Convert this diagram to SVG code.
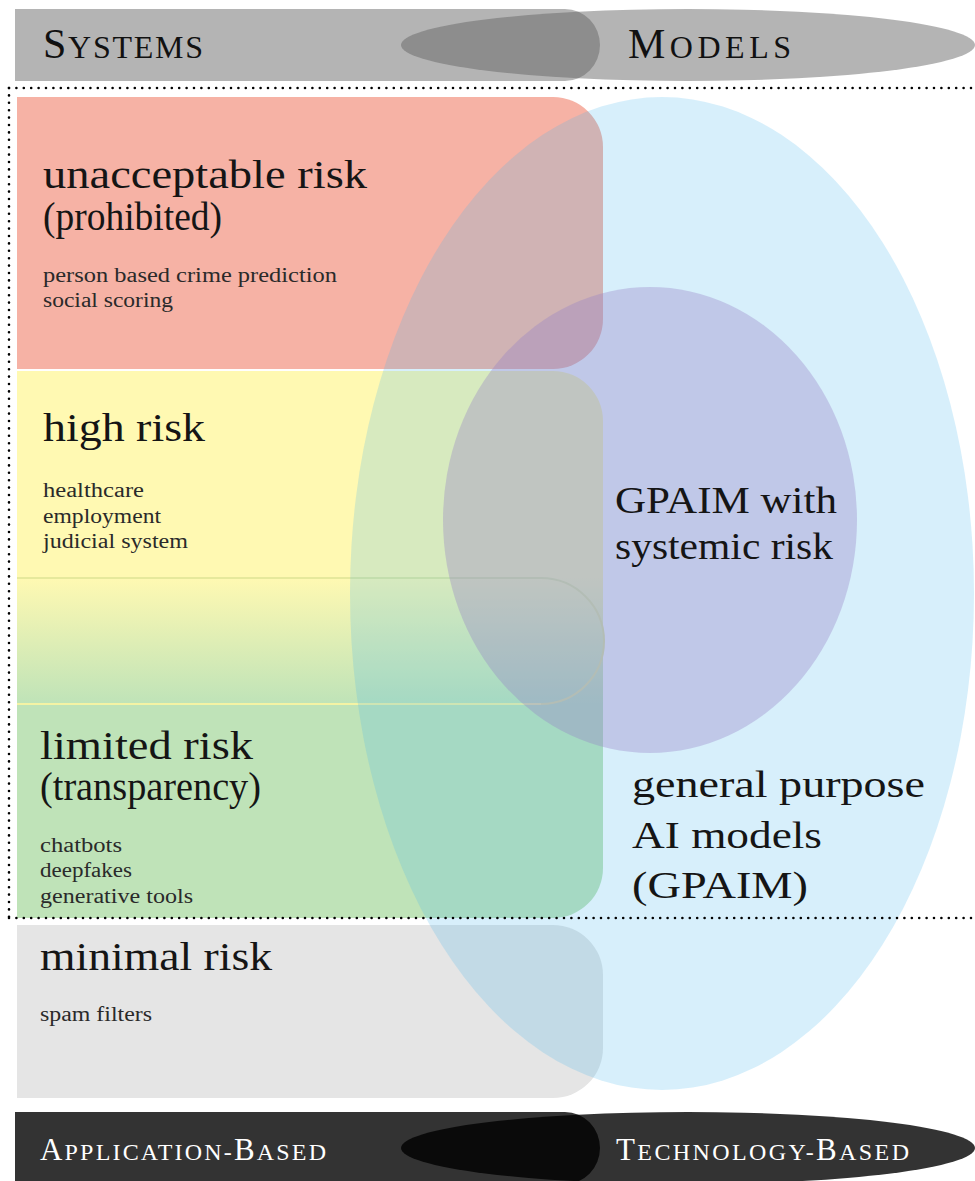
<svg xmlns="http://www.w3.org/2000/svg" width="975" height="1181" viewBox="0 0 975 1181">
<defs>
<style>
text{font-family:"Liberation Serif",Tinos,"Times New Roman",Times,"DejaVu Serif",serif;}
.h{font-size:40px;fill:#151515;}
.i{font-size:20px;fill:#2a2a2a;}
.m{font-size:38px;fill:#151515;}
.dot{stroke:#000;stroke-width:2.6;stroke-linecap:round;stroke-dasharray:0 7.4;fill:none;}
</style>
<linearGradient id="yg" x1="0" y1="371" x2="0" y2="918" gradientUnits="userSpaceOnUse">
<stop offset="0" stop-color="#fff9b2"/>
<stop offset="0.378" stop-color="#fff9b2"/>
<stop offset="0.608" stop-color="#bfe3b8"/>
<stop offset="1" stop-color="#bfe3b8"/>
</linearGradient>
</defs>
<rect width="975" height="1181" fill="#fff"/>

<g id="header">
<path d="M15 9 H565 A35 36 0 0 1 600 45 A35 36 0 0 1 565 81 H15 Z" fill="#626262" fill-opacity="0.48"/>
<ellipse cx="688" cy="45" rx="287" ry="36" fill="#626262" fill-opacity="0.48"/>
<text x="43" y="58" textLength="160" lengthAdjust="spacing" fill="#111"><tspan font-size="42">S</tspan><tspan font-size="32">YSTEMS</tspan></text>
<text x="628" y="58" textLength="163" lengthAdjust="spacing" fill="#111"><tspan font-size="42">M</tspan><tspan font-size="32">ODELS</tspan></text>
</g>

<g id="unacceptable">
<path d="M17 97 H553 A50 50 0 0 1 603 147 V319 A50 50 0 0 1 553 369 H17 Z" fill="#f6b2a5"/>
</g>

<g id="high-limited">
<path d="M17 371 H553 A50 50 0 0 1 603 421 V868 A50 50 0 0 1 553 918 H17 Z" fill="url(#yg)"/>
<path d="M17 578 H541 A63 63 0 0 1 541 704 H17" fill="none" stroke="#e6e99c" stroke-width="2"/>
<line x1="17" y1="704" x2="541" y2="704" stroke="#f4f3a4" stroke-width="2"/>
</g>

<g id="minimal">
<path d="M17 925 H553 A50 50 0 0 1 603 975 V1048 A50 50 0 0 1 553 1098 H17 Z" fill="#e5e5e5"/>
</g>

<g id="gpaim">
<ellipse cx="662" cy="593.5" rx="312" ry="496.5" fill="#49b6ec" fill-opacity="0.22"/>
</g>

<g id="gpaim-systemic">
<ellipse cx="650" cy="520" rx="207" ry="233" fill="#9580c5" fill-opacity="0.35"/>
</g>

<g id="unacceptable-text">
<text class="h" x="43" y="188" textLength="324" lengthAdjust="spacingAndGlyphs">unacceptable risk</text>
<text class="h" x="43" y="230" textLength="179" lengthAdjust="spacingAndGlyphs">(prohibited)</text>
<text class="i" x="43" y="282" textLength="294" lengthAdjust="spacingAndGlyphs">person based crime prediction</text>
<text class="i" x="43" y="307" textLength="130" lengthAdjust="spacingAndGlyphs">social scoring</text>
</g>

<g id="high-risk-text">
<text class="h" x="43" y="441" textLength="162" lengthAdjust="spacingAndGlyphs">high risk</text>
<text class="i" x="43" y="497" textLength="101" lengthAdjust="spacingAndGlyphs">healthcare</text>
<text class="i" x="43" y="523" textLength="118" lengthAdjust="spacingAndGlyphs">employment</text>
<text class="i" x="43" y="548" textLength="145" lengthAdjust="spacingAndGlyphs">judicial system</text>
</g>

<g id="limited-risk-text">
<text class="h" x="40" y="759" textLength="213" lengthAdjust="spacingAndGlyphs">limited risk</text>
<text class="h" x="40" y="800" textLength="221" lengthAdjust="spacingAndGlyphs">(transparency)</text>
<text class="i" x="40" y="852" textLength="82" lengthAdjust="spacingAndGlyphs">chatbots</text>
<text class="i" x="40" y="877" textLength="92" lengthAdjust="spacingAndGlyphs">deepfakes</text>
<text class="i" x="40" y="903" textLength="153" lengthAdjust="spacingAndGlyphs">generative tools</text>
</g>

<g id="minimal-risk-text">
<text class="h" x="40" y="970" textLength="232" lengthAdjust="spacingAndGlyphs">minimal risk</text>
<text class="i" x="40" y="1021" textLength="112" lengthAdjust="spacingAndGlyphs">spam filters</text>
</g>

<g id="gpaim-text">
<text class="m" x="615" y="513" textLength="222" lengthAdjust="spacingAndGlyphs">GPAIM with</text>
<text class="m" x="615" y="559" textLength="218" lengthAdjust="spacingAndGlyphs">systemic risk</text>
<text class="m" x="632" y="797" textLength="293" lengthAdjust="spacingAndGlyphs">general purpose</text>
<text class="m" x="632" y="848" textLength="190" lengthAdjust="spacingAndGlyphs">AI models</text>
<text class="m" x="632" y="898" textLength="176" lengthAdjust="spacingAndGlyphs">(GPAIM)</text>
</g>

<g id="regulation-boundary">
<line class="dot" x1="9" y1="88" x2="975" y2="88"/>
<line class="dot" x1="9" y1="88" x2="9" y2="918"/>
<line class="dot" x1="9" y1="918" x2="975" y2="918"/>
</g>

<g id="footer">
<path d="M15 1112 H565 A35 36 0 0 1 600 1148 A35 36 0 0 1 565 1184 H15 Z" fill="#000" fill-opacity="0.8"/>
<ellipse cx="688" cy="1148" rx="287" ry="36" fill="#000" fill-opacity="0.8"/>
<text x="40" y="1160" textLength="286" lengthAdjust="spacing" fill="#fff"><tspan font-size="31">A</tspan><tspan font-size="24">PPLICATION-</tspan><tspan font-size="31">B</tspan><tspan font-size="24">ASED</tspan></text>
<text x="616" y="1160" textLength="293" lengthAdjust="spacing" fill="#fff"><tspan font-size="31">T</tspan><tspan font-size="24">ECHNOLOGY-</tspan><tspan font-size="31">B</tspan><tspan font-size="24">ASED</tspan></text>
</g>
</svg>
